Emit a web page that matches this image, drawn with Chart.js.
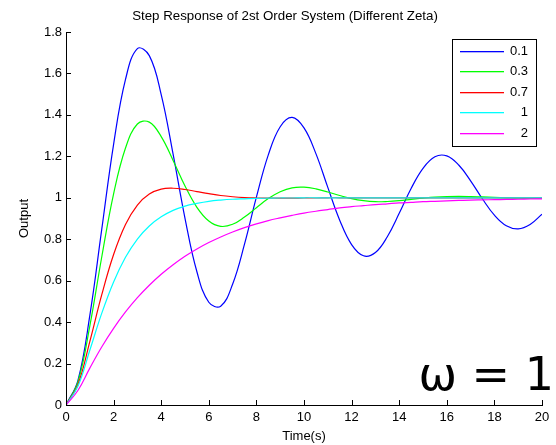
<!DOCTYPE html>
<html>
<head>
<meta charset="utf-8">
<script src="https://cdn.jsdelivr.net/npm/chart.js@4"></script>
<style>
  html, body { margin: 0; padding: 0; background: #fff; }
  #wrap { width: 556px; height: 445px; }
</style>
</head>
<body>
<div id="wrap"><canvas id="chart" width="556" height="445"></canvas></div>
<script>
// time samples (s)
const time = [0, 0.5, 1, 1.5, 2, 2.5, 3, 3.5, 4, 4.5, 5, 5.5, 6, 6.5, 7, 7.5, 8, 8.5, 9, 9.5,
  10, 10.5, 11, 11.5, 12, 12.5, 13, 13.5, 14, 14.5, 15, 15.5, 16, 16.5, 17, 17.5, 18, 18.5, 19, 19.5, 20];

// step response values, one array per zeta
const zeta01 = [0, 0.118, 0.431, 0.846, 1.258, 1.571, 1.720, 1.686, 1.498, 1.211, 0.901, 0.643, 0.496, 0.477,
  0.583, 0.776, 1.003, 1.207, 1.343, 1.388, 1.337, 1.213, 1.050, 0.892, 0.774, 0.720, 0.736, 0.812, 0.925,
  1.045, 1.142, 1.198, 1.202, 1.158, 1.082, 0.994, 0.916, 0.865, 0.850, 0.871, 0.921];
const zeta03 = [0, 0.111, 0.381, 0.713, 1.019, 1.240, 1.356, 1.365, 1.295, 1.180, 1.057, 0.954, 0.888, 0.862,
  0.872, 0.907, 0.952, 0.996, 1.029, 1.048, 1.051, 1.043, 1.028, 1.011, 0.996, 0.986, 0.981, 0.982, 0.986,
  0.992, 0.998, 1.003, 1.006, 1.007, 1.006, 1.004, 1.002, 1.000, 0.998, 0.997, 0.997];
const zeta07 = [0, 0.098, 0.306, 0.531, 0.726, 0.871, 0.965, 1.018, 1.042, 1.046, 1.040, 1.030, 1.020, 1.011,
  1.005, 1.001, 0.999, 0.998, 0.998, 0.998, 0.999, 0.999, 1, 1, 1, 1, 1, 1, 1, 1, 1, 1, 1, 1, 1, 1, 1, 1, 1, 1, 1];
const zeta1 = [0, 0.090, 0.264, 0.442, 0.594, 0.713, 0.801, 0.864, 0.908, 0.939, 0.960, 0.973, 0.983, 0.989,
  0.993, 0.995, 0.997, 0.998, 0.999, 0.999, 1, 1, 1, 1, 1, 1, 1, 1, 1, 1, 1, 1, 1, 1, 1, 1, 1, 1, 1, 1, 1];
const zeta2 = [0, 0.070, 0.178, 0.280, 0.370, 0.449, 0.518, 0.578, 0.631, 0.677, 0.718, 0.753, 0.784, 0.811,
  0.835, 0.856, 0.874, 0.890, 0.903, 0.915, 0.926, 0.935, 0.943, 0.951, 0.957, 0.962, 0.967, 0.971, 0.975,
  0.978, 0.981, 0.983, 0.985, 0.987, 0.989, 0.990, 0.991, 0.992, 0.993, 0.994, 0.995];

const seriesLabels = ['0.1', '0.3', '0.7', '1', '2'];
const seriesValues = [zeta01, zeta03, zeta07, zeta1, zeta2];
const seriesColors = ['#0000ff', '#00ff00', '#ff0000', '#00ffff', '#ff00ff'];

const xTicks = [0, 2, 4, 6, 8, 10, 12, 14, 16, 18, 20];
const yTicks = [0, 0.2, 0.4, 0.6, 0.8, 1, 1.2, 1.4, 1.6, 1.8];

const FONT = '"Liberation Sans", Arial, sans-serif';

// title, inward ticks, legend box and the omega note
const decor = {
  id: 'decor',
  afterDraw(chart) {
    const ctx = chart.ctx;
    const a = chart.chartArea;
    const xs = chart.scales.x, ys = chart.scales.y;
    ctx.save();

    ctx.fillStyle = '#000';
    ctx.font = '13.3px ' + FONT;
    ctx.textAlign = 'center';
    ctx.textBaseline = 'middle';
    ctx.fillText('Step Response of 2st Order System (Different Zeta)', 285, 16);

    ctx.strokeStyle = '#000';
    ctx.lineWidth = 1;
    ctx.beginPath();
    xTicks.forEach(v => {
      const px = Math.round(xs.getPixelForValue(v)) + 0.5;
      ctx.moveTo(px, a.bottom);
      ctx.lineTo(px, a.bottom - 5);
    });
    yTicks.forEach(v => {
      const py = Math.round(ys.getPixelForValue(v)) + 0.5;
      ctx.moveTo(a.left, py);
      ctx.lineTo(a.left + 5, py);
    });
    ctx.stroke();

    // legend
    const lx = a.right - 90, ly = 39, lw = 84, lh = 107;
    ctx.fillStyle = '#fff';
    ctx.fillRect(lx, ly, lw, lh);
    ctx.strokeStyle = '#000';
    ctx.strokeRect(lx + 0.5, ly + 0.5, lw, lh);
    ctx.font = '13px ' + FONT;
    ctx.textAlign = 'right';
    seriesLabels.forEach((lab, i) => {
      const y = Math.round(ly + 12 + i * 20.4);
      ctx.fillStyle = seriesColors[i];
      ctx.fillRect(lx + 8, y, 44, 1.3);
      ctx.fillStyle = '#000';
      ctx.fillText(lab, lx + 76, y + 0.5);
    });

    ctx.font = '46px "DejaVu Sans", sans-serif';
    ctx.textAlign = 'right';
    ctx.textBaseline = 'alphabetic';
    ctx.fillText('\u03c9 = 1', 554, 390);
    ctx.restore();
  }
};

new Chart(document.getElementById('chart'), {
  type: 'line',
  data: {
    datasets: seriesValues.map((vals, i) => ({
      label: seriesLabels[i],
      data: vals.map((v, j) => ({ x: time[j], y: v })),
      borderColor: seriesColors[i],
      borderWidth: 1.2,
      pointRadius: 0,
      tension: 0.4,
      fill: false,
      order: seriesValues.length - i
    }))
  },
  options: {
    responsive: false,
    animation: false,
    events: [],
    layout: { padding: { left: 14, right: 14, top: 32, bottom: 0 } },
    plugins: { legend: { display: false }, tooltip: { enabled: false }, title: { display: false } },
    scales: {
      x: {
        type: 'linear', min: 0, max: 20,
        grid: { display: false, drawTicks: false },
        border: { display: true, color: '#000', width: 1 },
        afterBuildTicks: s => { s.ticks = xTicks.map(v => ({ value: v })); },
        afterFit: s => { s.height = 40; },
        ticks: { padding: 5, color: '#000', font: { family: FONT, size: 13 }, maxRotation: 0 },
        title: { display: true, text: 'Time(s)', color: '#000', font: { family: FONT, size: 13 }, padding: { top: 0, bottom: 1 } }
      },
      y: {
        min: 0, max: 1.8,
        grid: { display: false, drawTicks: false },
        border: { display: true, color: '#000', width: 1 },
        afterBuildTicks: s => { s.ticks = yTicks.map(v => ({ value: v })); },
        afterFit: s => { s.width = 52; },
        ticks: { padding: 4, color: '#000', font: { family: FONT, size: 13 }, callback: v => String(v) },
        title: { display: true, text: 'Output', color: '#000', font: { family: FONT, size: 13 }, padding: { top: 3, bottom: 0 } }
      }
    }
  },
  plugins: [decor]
});
</script>
</body>
</html>
